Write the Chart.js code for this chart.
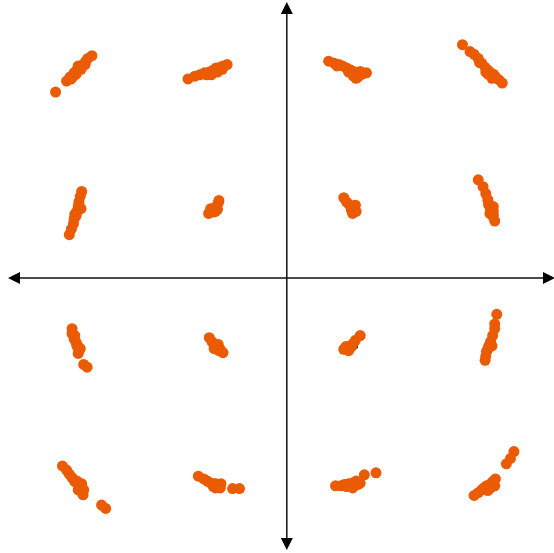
<!DOCTYPE html>
<html>
<head>
<meta charset="utf-8">
<script src="https://cdn.jsdelivr.net/npm/chart.js@4.4.1/dist/chart.umd.min.js"></script>
<style>
  body { margin: 0; background: #fff; }
  #wrap { width: 554px; height: 553px; position: relative; }
</style>
</head>
<body>
<div id="wrap"><canvas id="qamChart"></canvas></div>
<script>
// received symbols (in-phase / quadrature), one line per cluster
const rxI = [
  -3.37, -3.21, -3.16, -3.10, -3.06, -3.01, -2.97, -2.93, -2.90, -2.84, -3.07, -3.14, -3.00, -3.04, -2.94, -3.11,
  -1.44, -1.34, -1.27, -1.20, -1.13, -1.07, -1.03, -0.97, -0.93, -0.87, -1.10, -1.01, -1.04, -0.94, -1.17,
  0.61, 0.69, 0.76, 0.81, 0.87, 0.93, 0.99, 1.04, 1.10, 1.16, 0.97, 1.01, 1.07, 0.90, 1.04, 0.73,
  2.56, 2.67, 2.73, 2.79, 2.84, 2.89, 2.93, 2.97, 3.01, 3.04, 3.09, 3.14, 2.90, 2.99, 2.93, 3.03, 2.81,
  -2.99, -3.01, -3.03, -3.04, -3.06, -3.07, -3.10, -3.11, -3.14, -3.17, -3.00, -3.03, -3.09,
  -1.14, -1.10, -1.06, -1.03, -1.00, -0.99, -1.07, -1.01, -1.11, -1.04, -1.07,
  0.83, 0.87, 0.91, 0.94, 0.97, 1.01, 0.96, 1.00, 0.97, 0.94,
  2.79, 2.86, 2.90, 2.93, 2.94, 2.99, 3.01, 3.00, 3.03, 3.01, 2.96, 2.97, 3.01,
  -3.13, -3.13, -3.10, -3.07, -3.04, -3.03, -3.04, -3.09, -2.96, -2.91, -3.06, -3.01,
  -1.13, -1.09, -1.04, -1.01, -0.97, -0.93, -1.06, -1.00, -1.03, -0.99,
  1.07, 1.00, 0.96, 0.91, 0.87, 0.83, 0.90, 0.94, 0.90, 0.86,
  3.06, 3.03, 3.03, 3.00, 2.97, 2.94, 2.91, 2.90, 2.89, 2.99, 2.96, 2.93,
  -3.27, -3.21, -3.17, -3.13, -3.09, -3.04, -3.01, -2.99, -2.97, -3.04, -2.99, -2.70, -2.64, -3.00, -3.06, -2.96,
  -1.29, -1.21, -1.16, -1.11, -1.06, -1.01, -0.97, -0.96, -1.07, -0.79, -0.69, -1.03, -0.99, -1.04,
  0.71, 0.79, 0.84, 0.90, 0.96, 1.01, 1.07, 0.87, 0.96, 1.01, 1.13, 1.30, 0.93, 0.99, 1.04,
  3.31, 3.26, 3.20, 3.04, 3.00, 2.96, 2.90, 2.84, 2.79, 2.73, 2.93, 3.03, 2.87, 2.97, 2.91
];
const rxQ = [
  2.71, 2.87, 2.93, 2.99, 3.03, 3.07, 3.11, 3.16, 3.20, 3.24, 2.97, 2.90, 3.04, 3.09, 3.11, 2.94,
  2.90, 2.94, 2.96, 2.99, 3.00, 3.03, 3.06, 3.07, 3.09, 3.11, 2.96, 3.00, 3.01, 3.04, 2.96,
  3.16, 3.13, 3.11, 3.09, 3.06, 3.03, 3.00, 2.97, 2.97, 2.99, 2.94, 2.91, 3.01, 3.00, 2.93, 3.09,
  3.40, 3.30, 3.26, 3.20, 3.13, 3.07, 3.03, 2.99, 2.97, 2.93, 2.89, 2.84, 3.00, 2.91, 2.97, 2.94, 3.14,
  1.26, 1.19, 1.11, 1.04, 0.97, 0.91, 0.86, 0.79, 0.71, 0.63, 1.01, 1.07, 0.93,
  0.94, 0.97, 1.01, 1.04, 1.09, 1.13, 0.96, 1.00, 1.01, 0.97, 0.99,
  1.17, 1.11, 1.07, 1.03, 1.00, 0.97, 0.94, 1.06, 0.97, 0.99,
  1.43, 1.33, 1.23, 1.14, 1.07, 1.03, 0.97, 0.90, 0.83, 1.04, 0.94, 1.00, 0.91,
  -0.74, -0.81, -0.89, -0.94, -1.00, -1.06, -1.10, -0.84, -1.26, -1.30, -0.99, -1.03,
  -0.87, -0.93, -0.97, -1.01, -1.04, -1.09, -1.03, -0.97, -1.00, -1.06,
  -0.84, -0.91, -0.96, -1.00, -1.03, -1.04, -1.06, -1.01, -1.01, -1.00,
  -0.53, -0.67, -0.74, -0.84, -0.93, -1.00, -1.07, -1.14, -1.20, -0.99, -0.96, -1.04,
  -2.74, -2.80, -2.86, -2.91, -2.97, -3.00, -3.06, -3.11, -3.16, -3.09, -3.00, -3.31, -3.36, -3.03, -2.96, -3.09,
  -2.89, -2.93, -2.96, -2.99, -3.00, -3.03, -3.06, -3.00, -3.04, -3.07, -3.07, -3.00, -3.03, -3.06,
  -3.03, -3.03, -3.01, -3.00, -2.99, -3.01, -2.99, -3.04, -3.06, -2.96, -2.87, -2.84, -3.03, -2.99, -3.01,
  -2.53, -2.63, -2.71, -2.93, -2.97, -3.01, -3.06, -3.09, -3.13, -3.17, -3.10, -3.03, -3.06, -3.06, -3.03
];

// ideal 16-QAM reference points
const levels = [-3, -1, 1, 3];

const rxPoints = rxI.map((v, i) => ({ x: v, y: rxQ[i] }));
const refPoints = [];
levels.forEach(a => levels.forEach(b => refPoints.push({ x: a, y: b })));

// draws the two crossing axes with arrow heads
const arrowAxes = {
  id: 'arrowAxes',
  beforeDatasetsDraw(chart) {
    const ctx = chart.ctx;
    const cx = chart.scales.x.getPixelForValue(0);
    const cy = chart.scales.y.getPixelForValue(0);
    const w = chart.width, h = chart.height;
    ctx.save();
    ctx.strokeStyle = '#111';
    ctx.fillStyle = '#000';
    ctx.lineWidth = 1.5;
    ctx.beginPath();
    ctx.moveTo(16, cy); ctx.lineTo(w - 6, cy);
    ctx.moveTo(cx, 10); ctx.lineTo(cx, h - 10);
    ctx.stroke();
    const head = (pts) => {
      ctx.beginPath();
      ctx.moveTo(pts[0], pts[1]);
      ctx.lineTo(pts[2], pts[3]);
      ctx.lineTo(pts[4], pts[5]);
      ctx.closePath();
      ctx.fill();
    };
    head([cx, 2, cx - 6, 14, cx + 6, 14]);
    head([cx, h - 3, cx - 6, h - 15, cx + 6, h - 15]);
    head([8, cy, 20, cy - 6, 20, cy + 6]);
    head([w + 1, cy, w - 11, cy - 6, w - 11, cy + 6]);
    ctx.restore();
  }
};

new Chart(document.getElementById('qamChart'), {
  type: 'scatter',
  data: {
    datasets: [
      {
        label: 'received',
        data: rxPoints,
        backgroundColor: '#ea5b04',
        borderColor: '#ea5b04',
        pointRadius: 5.5,
        borderWidth: 0,
        order: 0
      },
      {
        label: 'reference',
        data: refPoints,
        backgroundColor: '#000',
        pointRadius: 2.5,
        borderWidth: 0,
        order: 1
      }
    ]
  },
  options: {
    responsive: true,
    maintainAspectRatio: false,
    animation: false,
    layout: { padding: 0 },
    plugins: { legend: { display: false }, tooltip: { enabled: false } },
    scales: {
      x: { type: 'linear', min: -4.1, max: 3.814, display: false },
      y: { type: 'linear', min: -3.929, max: 3.971, display: false }
    }
  },
  plugins: [arrowAxes]
});
</script>
</body>
</html>
